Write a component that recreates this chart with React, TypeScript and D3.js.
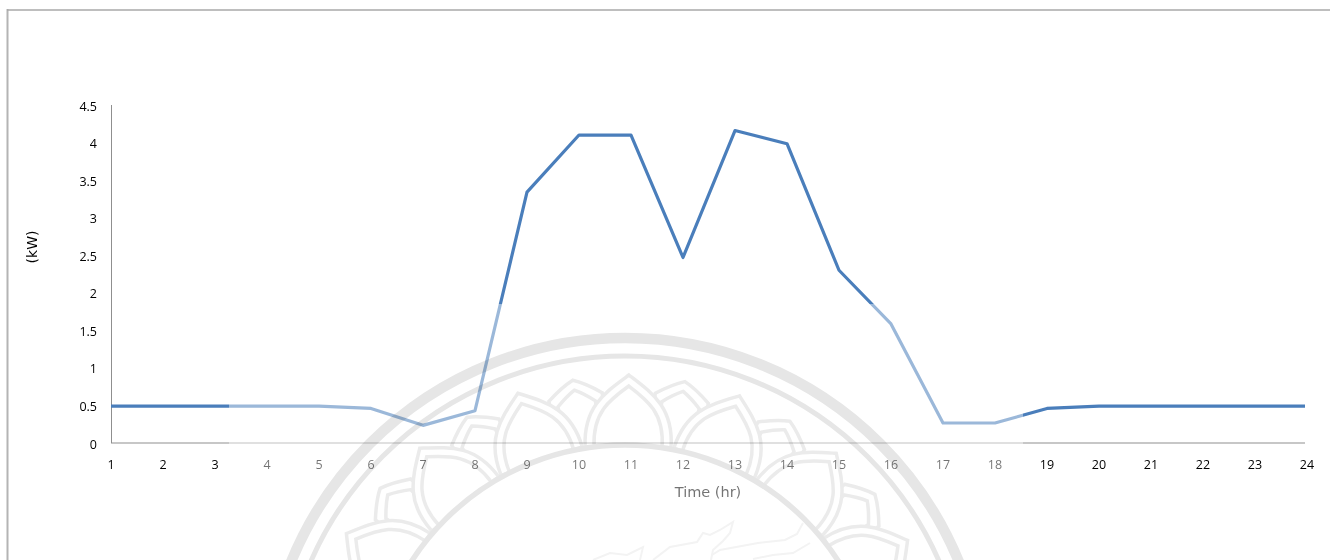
import React from "react";
import * as d3 from "d3";

const hours = [1, 2, 3, 4, 5, 6, 7, 8, 9, 10, 11, 12, 13, 14, 15, 16, 17, 18, 19, 20, 21, 22, 23, 24];
const powerKw = [0.49, 0.49, 0.49, 0.49, 0.49, 0.46, 0.235, 0.43, 3.34, 4.1, 4.1, 2.47, 4.16, 3.985, 2.3, 1.585, 0.266, 0.266, 0.46, 0.49, 0.49, 0.49, 0.49, 0.49];
const yTicks = [0, 0.5, 1, 1.5, 2, 2.5, 3, 3.5, 4, 4.5];

const bigPetalAngles = [-80, -60, -40, -20, 0, 20, 40, 60, 80];
const smallPetalAngles = [-70, -50, -30, -10, 10, 30, 50, 70];

const x = d3.scaleLinear().domain([1, 24]).range([111, 1307]);
const y = d3.scaleLinear().domain([0, 4.5]).range([443, 105]);

const path = d3
  .line<number>()
  .x((_, i) => Math.min(x(hours[i]), 1305))
  .y((d) => y(d));

const SANS = "'Open Sans', sans-serif";
const TITLE = "'DejaVu Sans', sans-serif";
const RING = "#e6e6e6";
const PETAL = "#ebebeb";

const bigOuter = "M-43,-252 C-45,-292 -24,-306 0,-324 C24,-306 45,-292 43,-252 Z";
const bigInner = "M-34,-252 C-36,-286 -19,-299 0,-313 C19,-299 36,-286 34,-252";
const smallOuter = "M-26,-270 L-27,-306 Q-12,-318 0,-323 Q12,-318 27,-306 L26,-270";
const smallInner = "M-18,-270 L-19,-299 Q-9,-308 0,-313 Q9,-308 19,-299 L18,-270";

// University seal printed across the lower part of the page.
function Seal() {
  return (
    <g style={{ mixBlendMode: "multiply" }}>
      <g transform="translate(625,699)" fill="none">
        <circle r={361} strokeWidth={10.5} stroke={RING} />
        <circle r={343} strokeWidth={5} stroke={RING} />
        <g transform="rotate(0.7)" stroke={PETAL}>
          {smallPetalAngles.map((a) => (
            <g key={a} transform={`rotate(${a})`} strokeWidth={3.5}>
              <path d={smallOuter} fill="#fff" />
              <path d={smallInner} />
            </g>
          ))}
          {bigPetalAngles.map((a) => (
            <g key={a} transform={`rotate(${a})`} strokeWidth={3.5}>
              <path d={bigOuter} fill="#fff" />
              <path d={bigInner} />
            </g>
          ))}
        </g>
        <circle r={254} strokeWidth={5.5} stroke={RING} fill="#fff" />
      </g>
      {/* Naga crest and tail inside the inner ring */}
      <g fill="none" stroke="#f3f3f3" strokeWidth={2}>
        <path d="M653,560 L670,547 L697,542 L703,533 L710,535 L720,530 L733,522 L730,533 L723,541 L713,550 L711,560" />
        <path d="M593,560 L610,553 L627,555 L643,547 L640,560" />
        <path d="M712,555 L720,550 L758,543 L785,540 L797,534 L803,523" />
        <path d="M753,559 L773,555 L793,553 L810,543" />
      </g>
    </g>
  );
}

export default function App() {
  return (
    <svg
      width={1330}
      height={560}
      viewBox="0 0 1330 560"
      style={{ position: "absolute", left: 0, top: 0, display: "block", background: "#fff" }}
    >
      {/* Page frame */}
      <line x1={7.5} x2={7.5} y1={9} y2={560} stroke="#b4b4b4" strokeWidth={2} />
      <line x1={7} x2={1330} y1={10} y2={10} stroke="#a8a8a8" strokeWidth={1.6} />

      {/* Axes */}
      <line x1={111.5} x2={111.5} y1={y(4.5)} y2={y(0)} stroke="#8f8f8f" strokeWidth={1} />
      <line x1={111} x2={1305} y1={y(0)} y2={y(0)} stroke="#8f8f8f" strokeWidth={1.2} />

      {yTicks.map((t) => (
        <text key={t} x={97} y={y(t) + 5.5} textAnchor="end" fontFamily={SANS} fontSize={12.5} fill="#000">
          {t}
        </text>
      ))}
      {hours.map((h) => (
        <text key={h} x={x(h)} y={469} textAnchor="middle" fontFamily={SANS} fontSize={12.5} fill="#000">
          {h}
        </text>
      ))}

      <path d={path(powerKw) ?? ""} fill="none" stroke="#4a7ebb" strokeWidth={3.2} strokeLinejoin="round" />

      <text
        transform="translate(32,247) rotate(-90)"
        textAnchor="middle"
        dominantBaseline="central"
        fontFamily={TITLE}
        fontSize={14}
        fill="#000"
      >
        (kW)
      </text>
      <text x={708} y={497} textAnchor="middle" fontFamily={TITLE} fontSize={14.5} fill="#000">
        Time (hr)
      </text>

      {/* Washed-out band under the seal */}
      <rect x={229} y={304} width={794} height={256} fill="#fff" fillOpacity={0.45} />
      <Seal />
    </svg>
  );
}
